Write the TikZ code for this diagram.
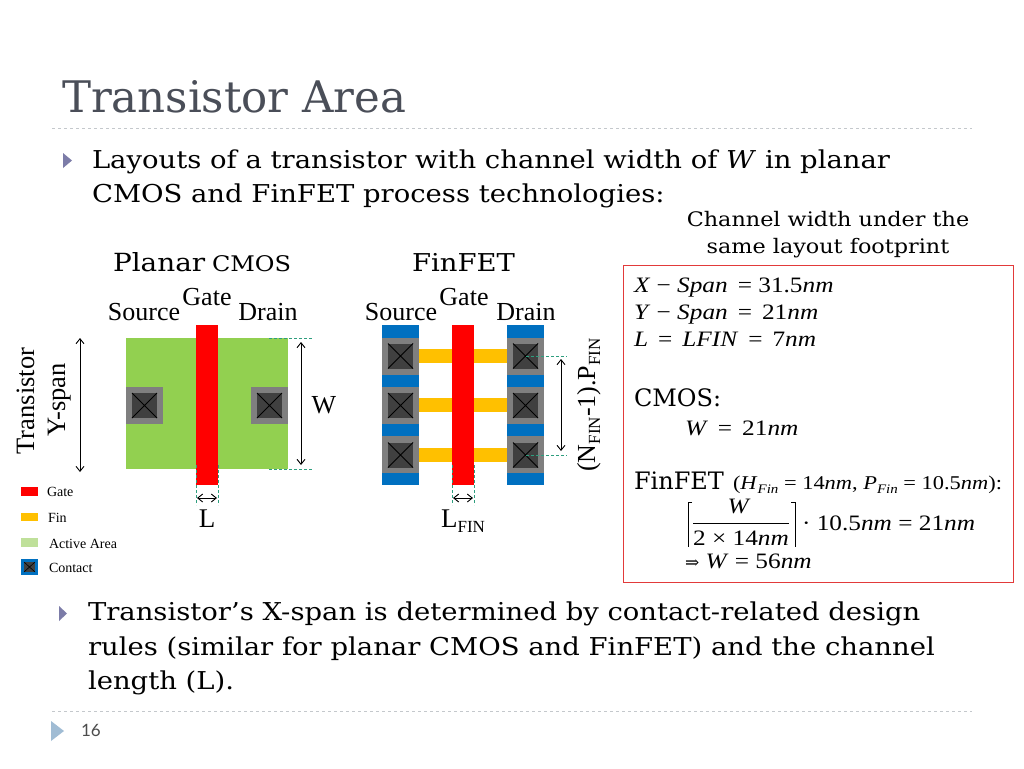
\documentclass[tikz,border=0pt]{standalone}
\usepackage{fontspec}
\setmainfont{DejaVu Serif}
\newfontfamily\tms{Liberation Serif}
\newfontfamily\tmx[FakeStretch=1.15]{Liberation Serif}
\newfontfamily\dv{DejaVu Serif}
\newfontfamily\dvx[FakeStretch=1.116]{DejaVu Serif}
\newfontfamily\sfn{Lato}
\usetikzlibrary{arrows.meta}
\definecolor{titlegrey}{HTML}{4A4E58}
\definecolor{activeg}{HTML}{92D050}
\definecolor{legendg}{HTML}{BFE09A}
\definecolor{fino}{HTML}{FFC000}
\definecolor{srcblue}{HTML}{0070C0}
\definecolor{contactg}{HTML}{7F7F7F}
\definecolor{contactd}{HTML}{404040}
\definecolor{dashg}{HTML}{2E9E7E}
\definecolor{rulegrey}{HTML}{C4C8CC}
\definecolor{bulletc}{HTML}{7C7CA8}
\definecolor{footc}{HTML}{A0BCD4}
\definecolor{boxred}{HTML}{E23A3A}
\newcommand{\fs}[1]{\fontsize{#1}{#1}\selectfont}
\newcommand{\mi}[1]{\textit{#1}}
\newcommand{\contact}[2]{%
  \fill[contactd] (#1-12.5,#2-12.5) rectangle (#1+12.5,#2+12.5);
  \draw[black,line width=1pt] (#1-12.5,#2-12.5) -- (#1+12.5,#2+12.5) (#1-12.5,#2+12.5) -- (#1+12.5,#2-12.5);}
\tikzset{
  x=1pt,y=-1pt,
  txt/.style={inner sep=0pt,outer sep=0pt,anchor=base west},
  ctxt/.style={inner sep=0pt,outer sep=0pt,anchor=base},
  bodyt/.style={txt,font=\dvx\fs{24.6}},
  lab/.style={ctxt,font=\tms\fs{26}},
  leg/.style={txt,font=\tms\fs{14}},
  mth/.style={txt,font=\tmx\fs{22}},
  dim/.style={{Straight Barb[length=5pt,width=8pt]}-{Straight Barb[length=5pt,width=8pt]},line width=0.9pt,black},
  guide/.style={dashg,densely dashed,line width=0.7pt},
  rulel/.style={rulegrey,dashed,line width=0.8pt}
}
\begin{document}
\begin{tikzpicture}
\useasboundingbox (0,0) rectangle (1024,768);
\fill[white] (0,0) rectangle (1024,768);
% title and rules
\node[txt,font=\dv\fs{43.5},text=titlegrey] (title) at (62,112) {Transistor Area};
\coordinate (r1a) at (52,128); \coordinate (r1b) at (972,128);
\draw[rulel] (r1a) -- (r1b);
\coordinate (r2a) at (52,711); \coordinate (r2b) at (972,711);
\draw[rulel] (r2a) -- (r2b);
% bullets
\fill[bulletc] (63,153) -- (72,160.5) -- (63,168) -- cycle;
\fill[bulletc] (59,606) -- (67,613.5) -- (59,621) -- cycle;
\fill[footc] (51,721) -- (64,731) -- (51,741) -- cycle;
\node[txt,font=\sfn\fs{17},text=black!70] (pg) at (81,736) {16};
% body
\node[bodyt] (b1) at (92,168.5) {Layouts of a transistor with channel width of \mi{W} in planar};
\node[bodyt] (b2) at (92,202.5) {CMOS and FinFET process technologies:};
\node[bodyt] (b3) at (88,620.5) {Transistor’s X-span is determined by contact-related design};
\node[bodyt] (b4) at (88,655.5) {rules (similar for planar CMOS and FinFET) and the channel};
\node[bodyt] (b5) at (88,689.5) {length (L).};
% planar layout
\fill[activeg] (126,338) rectangle (288,469);
\fill[contactg] (126,387) rectangle (163,424);
\fill[contactg] (251,387) rectangle (288,424);
\contact{144.5}{405.5}
\contact{269.5}{405.5}
\fill[red] (196,325) rectangle (218,485);
% finfet layout
\fill[srcblue] (382,325) rectangle (419,485);
\fill[srcblue] (507,325) rectangle (544,485);
\foreach \yy in {349,398,448}{\fill[fino] (419,\yy) rectangle (507,\yy+14);}
\foreach \xx in {382,507}{\foreach \yy in {338,387,436}{\fill[contactg] (\xx,\yy) rectangle (\xx+37,\yy+37);}}
\foreach \xx in {400.5,525.5}{\foreach \yy in {356,405.5,455}{\contact{\xx}{\yy}}}
\fill[red] (452,325) rectangle (474,485);
% guides
\coordinate (wg1a) at (269,338); \coordinate (wg1b) at (312,338);
\coordinate (wg2a) at (269,469); \coordinate (wg2b) at (312,469);
\draw[guide] (wg1a) -- (wg1b); \draw[guide] (wg2a) -- (wg2b);
\coordinate (lg1a) at (196,465); \coordinate (lg1b) at (196,505);
\coordinate (lg2a) at (218,465); \coordinate (lg2b) at (218,505);
\draw[guide] (lg1a) -- (lg1b); \draw[guide] (lg2a) -- (lg2b);
\coordinate (fg1a) at (452,465); \coordinate (fg1b) at (452,505);
\coordinate (fg2a) at (474,465); \coordinate (fg2b) at (474,505);
\draw[guide] (fg1a) -- (fg1b); \draw[guide] (fg2a) -- (fg2b);
\coordinate (pg1a) at (526,356); \coordinate (pg1b) at (567,356);
\coordinate (pg2a) at (526,455); \coordinate (pg2b) at (567,455);
\draw[guide] (pg1a) -- (pg1b); \draw[guide] (pg2a) -- (pg2b);
% dimension arrows
\coordinate (ya) at (80,338); \coordinate (yb) at (80,472);
\draw[dim] (ya) -- (yb);
\coordinate (wa) at (301,342); \coordinate (wb) at (301,465);
\draw[dim] (wa) -- (wb);
\coordinate (la) at (197,498); \coordinate (lb) at (217,498);
\draw[dim] (la) -- (lb);
\coordinate (fa) at (453,498); \coordinate (fb) at (473,498);
\draw[dim] (fa) -- (fb);
\coordinate (pa) at (561,359); \coordinate (pb) at (561,451);
\draw[dim] (pa) -- (pb);
% layout labels
\node[txt,font=\dvx\fs{25}] (planar) at (113,271) {Planar};
\node[txt,font=\dvx\fs{21.5}] (cmos) at (212,271) {CMOS};
\node[txt,font=\dvx\fs{24.6}] (fin) at (412,271) {FinFET};
\node[lab] (s1) at (144,320) {Source};
\node[lab] (g1) at (207,305) {Gate};
\node[lab] (d1) at (268,320) {Drain};
\node[lab] (s2) at (401,320) {Source};
\node[lab] (g2) at (464,305) {Gate};
\node[lab] (d2) at (526,320) {Drain};
\node[lab] (w) at (324,413) {W};
\node[lab,font=\tms\fs{27}] (l) at (207,527) {L};
\node[ctxt,font=\tms\fs{27}] (lfin) at (463,527) {L\raisebox{-0.2em}{\fs{17}FIN}};
\node[ctxt,font=\tms\fs{26.5},rotate=90] (ts1) at (34,401) {Transistor};
\node[ctxt,font=\tms\fs{26.5},rotate=90] (ts2) at (65,400) {Y-span};
\node[ctxt,font=\tms\fs{26},rotate=90] (nf) at (595,405) {(N\raisebox{-0.2em}{\fs{17}FIN}-1).P\raisebox{-0.2em}{\fs{17}FIN}};
% legend
\fill[red] (21,487) rectangle (38,496);
\fill[fino] (21,513) rectangle (38,521);
\fill[legendg] (21,538) rectangle (38,547);
\fill[srcblue] (21,559) rectangle (38,575);
\fill[contactd] (24,562) rectangle (35,572);
\draw[black,line width=.6pt] (24,562) -- (35,572) (24,572) -- (35,562);
\node[leg] (lg1) at (47,496) {Gate};
\node[leg] (lg2) at (48,522) {Fin};
\node[leg] (lg3) at (49,548) {Active Area};
\node[leg] (lg4) at (49,572) {Contact};
% right box
\node[ctxt,font=\dvx\fs{20}] (ch1) at (828,226) {Channel width under the};
\node[ctxt,font=\dvx\fs{20}] (ch2) at (828,253) {same layout footprint};
\draw[boxred,line width=1pt] (623,265) rectangle (1013,582);
\node[mth] (m1) at (634,292) {\mi{X} − \mi{Span} \,= 31.5\mi{nm}};
\node[mth] (m2) at (634,319) {\mi{Y} − \mi{Span} \,= \,21\mi{nm}};
\node[mth] (m3) at (634,346) {\mi{L} \,= \,\mi{LFIN} \,= \,7\mi{nm}};
\node[txt,font=\dv\fs{24}] (cm) at (634,406) {CMOS:};
\node[mth] (m4) at (685,435) {\mi{W} \,= \,21\mi{nm}};
\node[txt,font=\dv\fs{24}] (ff) at (634,489) {FinFET};
\node[txt,font=\tmx\fs{19.5}] (ffp) at (733,489) {(\mi{H}\raisebox{-0.25em}{\fs{13}\mi{Fin}} = 14\mi{nm}, \mi{P}\raisebox{-0.25em}{\fs{13}\mi{Fin}} = 10.5\mi{nm}):};
\node[ctxt,font=\tmx\fs{22}] (fr1) at (739,513) {\mi{W}};
\node[ctxt,font=\tmx\fs{22}] (fr2) at (741,545) {2 × 14\mi{nm}};
\draw[black,line width=.8pt] (693,523) -- (789,523);
\draw[black,line width=.8pt] (692,502) -- (688,502) -- (688,547);
\draw[black,line width=.8pt] (791,502) -- (795,502) -- (795,547);
\node[mth] (m5) at (802,530) {· 10.5\mi{nm} = 21\mi{nm}};
\node[mth] (m6) at (685,568) {{\dv\fs{17}⇒} \mi{W} = 56\mi{nm}};
\end{tikzpicture}
\end{document}
